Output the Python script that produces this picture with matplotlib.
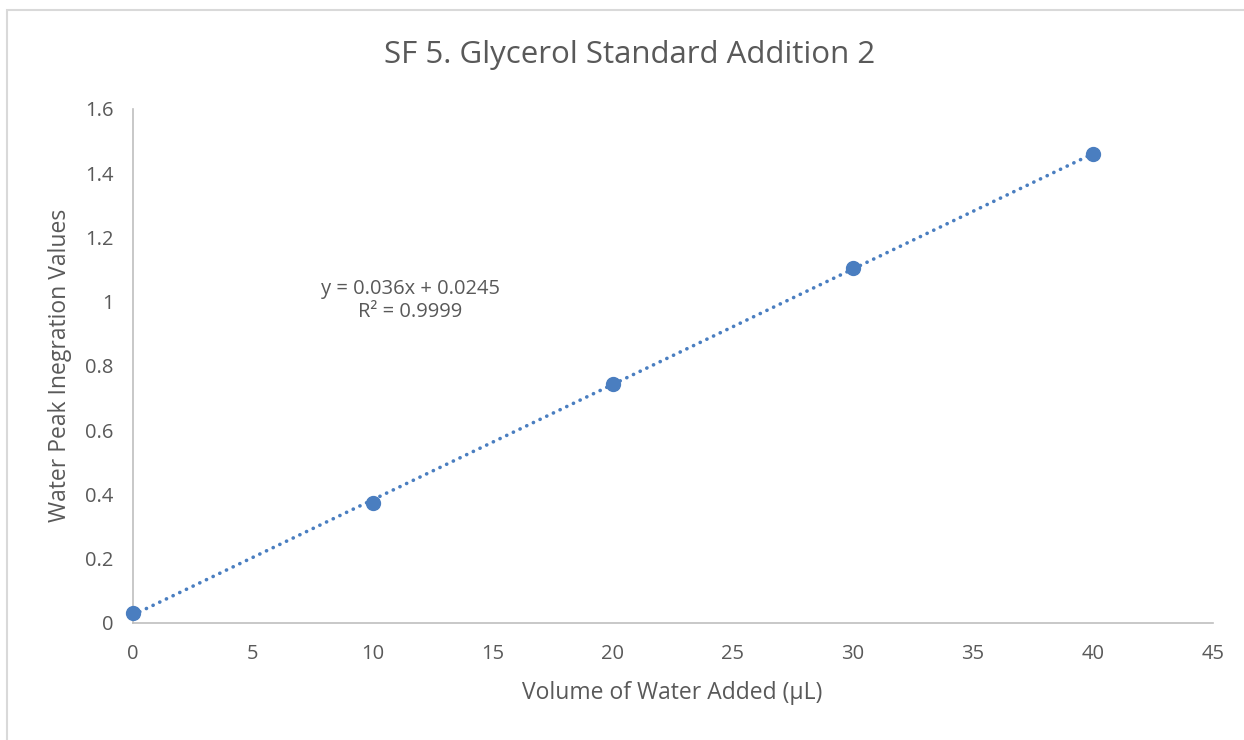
import numpy as np
import matplotlib.pyplot as plt
from matplotlib.patches import Rectangle

# data
volume = [0, 10, 20, 30, 40]
peak = [0.03, 0.375, 0.745, 1.105, 1.46]
xticks = [0, 5, 10, 15, 20, 25, 30, 35, 40, 45]
yticks = [0, 0.2, 0.4, 0.6, 0.8, 1.0, 1.2, 1.4, 1.6]
ytick_labels = ['0', '0.2', '0.4', '0.6', '0.8', '1', '1.2', '1.4', '1.6']

plt.rcParams['font.family'] = ['Open Sans', 'DejaVu Sans']
txt = '#595959'
blue = '#4A7EC0'
axis_col = '#BFBFBF'

fig = plt.figure(figsize=(12.44, 7.40), dpi=100)
ax = fig.add_axes([133 / 1244, 1 - 623 / 740, 1080 / 1244, 514 / 740])

# linear trendline fitted to the points
slope, intercept = np.polyfit(volume, peak, 1)
xs = np.array([volume[0], volume[-1]])
ax.plot(xs, slope * xs + intercept, color=blue, lw=2.6, linestyle=(0, (0.05, 2.0)),
        dash_capstyle='round', zorder=2)
ax.plot(volume, peak, 'o', color=blue, markersize=10, zorder=3, clip_on=False)

ax.set_xlim(0, 45)
ax.set_ylim(0, 1.6)
ax.set_xticks(xticks)
ax.set_yticks(yticks)
ax.set_yticklabels(ytick_labels)
ax.tick_params(length=0, labelsize=14.5, labelcolor=txt)
ax.tick_params(axis='x', pad=15)
ax.tick_params(axis='y', pad=14)
for side in ['top', 'right']:
    ax.spines[side].set_visible(False)
for side in ['left', 'bottom']:
    ax.spines[side].set_color(axis_col)
    ax.spines[side].set_linewidth(1.2)

ax.text(11.55, 1.005, 'y = 0.036x + 0.0245\nR² = 0.9999', ha='center', va='center',
        fontsize=14.5, color=txt, linespacing=1.2)

fig.text(0.506, 0.926, 'SF 5. Glycerol Standard Addition 2', ha='center', va='center',
         fontsize=22.5, color=txt)
fig.text(0.54, 0.064, 'Volume of Water Added (µL)', ha='center', va='center',
         fontsize=16.5, color=txt)
fig.text(0.048, 0.506, 'Water Peak Inegration Values', ha='center', va='center',
         rotation=90, fontsize=16.5, color=txt)

# outer chart border
fig.patches.append(Rectangle((7 / 1244, -0.1), 1.2, 1.1 - 10 / 740, transform=fig.transFigure,
                             fill=False, edgecolor='#D9D9D9', lw=1.5))

plt.savefig('out.png', dpi=100)
